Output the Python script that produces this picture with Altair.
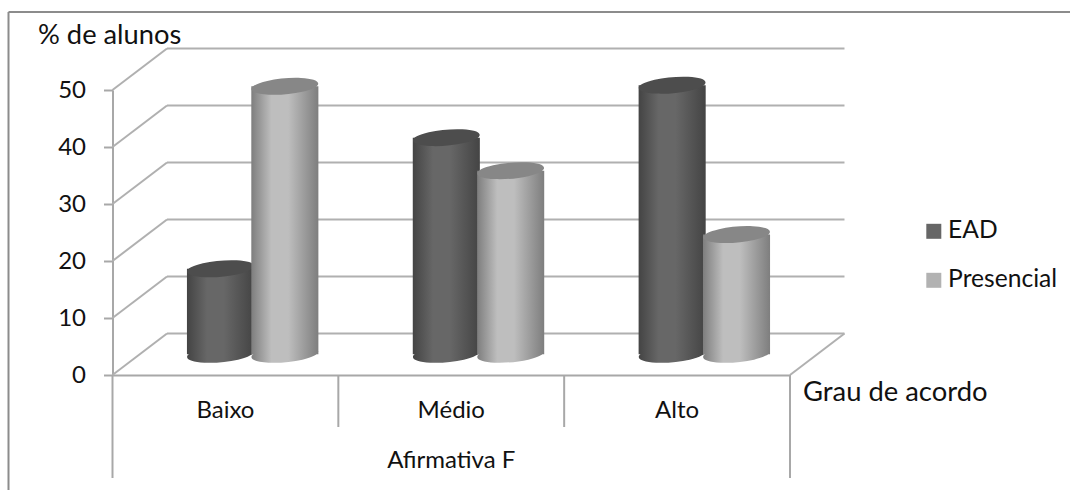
import altair as alt
import pandas as pd

# Survey values
categories = ["Baixo", "Médio", "Alto"]
ead_values = [15, 38, 47.2]
presencial_values = [47, 32.2, 21]
series_names = ["EAD", "Presencial"]
y_ticks = [0, 10, 20, 30, 40, 50]
group_label = "Afirmativa F"

# Oblique projection of the box, in axis units
DEPTH_X = 0.2413
DEPTH_Y = 7.28
CYL_W = 0.297
CYL_GAP = 0.1425

PLOT_W = 677.5
PLOT_H = 285
FONT = "Lato"
INK = "#111111"
GRID = "#b0b0b0"
AXIS = "#a8a8a8"
FRAME = "#8c8c8c"

x_scale = alt.Scale(domain=[0, 3], nice=False, zero=False)
y_scale = alt.Scale(domain=[0, 50], nice=False, zero=False)


def shaded(edge, mid):
    return alt.Gradient(
        gradient="linear", x1=0, x2=1, y1=0, y2=0,
        stops=[
            alt.GradientStop(offset=0, color=edge),
            alt.GradientStop(offset=0.3, color=mid),
            alt.GradientStop(offset=0.55, color=mid),
            alt.GradientStop(offset=1, color=edge),
        ],
    )


# Tilted ellipse spanning -1..1 across, for the cylinder caps
CAP = "M-0.996,0.088 A1,0.236 -5 1 1 0.996,-0.088 A1,0.236 -5 1 1 -0.996,0.088 Z"


def cylinder_layers(values, side, edge, mid, cap):
    rows = []
    for i, v in enumerate(values):
        c = i + 0.5 + DEPTH_X / 2 + side * CYL_GAP
        rows.append({
            "x0": c - CYL_W / 2, "x1": c + CYL_W / 2, "xc": c,
            "base": DEPTH_Y / 2, "top": DEPTH_Y / 2 + v,
        })
    df = pd.DataFrame(rows)
    fill = shaded(edge, mid)
    body = alt.Chart(df).mark_rect(fill=fill).encode(
        x=alt.X("x0:Q", scale=x_scale), x2="x1:Q",
        y=alt.Y("base:Q", scale=y_scale), y2="top:Q",
    )
    foot = alt.Chart(df).mark_point(
        filled=True, fill=fill, shape=CAP, size=4489, opacity=1
    ).encode(
        x=alt.X("xc:Q", scale=x_scale),
        y=alt.Y("base:Q", scale=y_scale),
    )
    head = alt.Chart(df).mark_point(
        filled=True, fill=cap, shape=CAP, size=4489, opacity=1
    ).encode(
        x=alt.X("xc:Q", scale=x_scale),
        y=alt.Y("top:Q", scale=y_scale),
    )
    return [body, foot, head]


# Axes, with the domain lines forming the front edges of the box
axes = alt.Chart(pd.DataFrame({"x": [0, 3], "y": [0, 50]})).mark_point(opacity=0).encode(
    x=alt.X("x:Q", scale=x_scale, axis=alt.Axis(
        values=[0, 3], ticks=False, labels=False, grid=False,
        domainColor=AXIS, domainWidth=2,
        title="Grau de acordo", titleFont=FONT, titleFontSize=27.4,
        titleFontWeight="normal", titleColor=INK, titleAngle=0,
        titleAlign="left", titleBaseline="middle", titleX=690, titleY=17,
    )),
    y=alt.Y("y:Q", scale=y_scale, axis=alt.Axis(
        values=y_ticks, grid=False, domainColor=AXIS, domainWidth=2,
        tickColor=AXIS, tickWidth=2, tickSize=9,
        labelFont=FONT, labelFontSize=24, labelColor=INK, labelPadding=18,
        title="% de alunos", titleFont=FONT, titleFontSize=27.3,
        titleFontWeight="normal", titleColor=INK, titleAngle=0,
        titleAlign="left", titleBaseline="middle", titleX=-75, titleY=-55,
    )),
)

# Back wall and its connection to the front axis
wall_df = pd.DataFrame({"v": y_ticks})
wall_df["back"] = wall_df["v"] + DEPTH_Y
wall_df["x_back"] = DEPTH_X
wall_df["x_far"] = 3 + DEPTH_X
wall_df["x_front"] = 0.0

back_lines = alt.Chart(wall_df).mark_rule(color=GRID, strokeWidth=2).encode(
    x=alt.X("x_back:Q", scale=x_scale), x2="x_far:Q",
    y=alt.Y("back:Q", scale=y_scale),
)
side_lines = alt.Chart(wall_df).mark_rule(color=GRID, strokeWidth=2).encode(
    x=alt.X("x_front:Q", scale=x_scale), x2="x_back:Q",
    y=alt.Y("v:Q", scale=y_scale), y2="back:Q",
)
floor_df = pd.DataFrame({"x": [3.0], "x2": [3 + DEPTH_X], "y": [0.0], "y2": [DEPTH_Y]})
floor_edge = alt.Chart(floor_df).mark_rule(color=GRID, strokeWidth=2).encode(
    x=alt.X("x:Q", scale=x_scale), x2="x2:Q",
    y=alt.Y("y:Q", scale=y_scale), y2="y2:Q",
)

# Multi-level category separators under the floor
short_ticks = alt.Chart(pd.DataFrame({"x": [1, 2]})).mark_rule(color=AXIS, strokeWidth=2).encode(
    x=alt.X("x:Q", scale=x_scale),
    y=alt.value(PLOT_H), y2=alt.value(PLOT_H + 52),
)
long_ticks = alt.Chart(pd.DataFrame({"x": [0, 3]})).mark_rule(color=AXIS, strokeWidth=2).encode(
    x=alt.X("x:Q", scale=x_scale),
    y=alt.value(PLOT_H), y2=alt.value(PLOT_H + 103),
)

cat_df = pd.DataFrame({"name": categories, "pos": [0.5, 1.5, 2.5]})
cat_labels = alt.Chart(cat_df).mark_text(
    font=FONT, fontSize=24, color=INK, align="center", baseline="middle"
).encode(
    x=alt.X("pos:Q", scale=x_scale),
    y=alt.value(PLOT_H + 36), text="name:N",
)
group_df = pd.DataFrame({"name": [group_label], "pos": [1.5]})
group_text = alt.Chart(group_df).mark_text(
    font=FONT, fontSize=24, color=INK, align="center", baseline="middle"
).encode(
    x=alt.X("pos:Q", scale=x_scale),
    y=alt.value(PLOT_H + 86), text="name:N",
)

# Series legend
legend_layer = alt.Chart(pd.DataFrame({"s": series_names})).mark_square(opacity=0).encode(
    x=alt.value(0), y=alt.value(0),
    color=alt.Color("s:N", scale=alt.Scale(domain=series_names, range=["#666666", "#b2b2b2"]),
                    legend=alt.Legend(
                        title=None, orient="none", legendX=809, legendY=129,
                        symbolType="square", symbolSize=225, symbolOpacity=1,
                        symbolStrokeWidth=0, labelFont=FONT, labelFontSize=24.6,
                        labelColor=INK, rowPadding=24, labelOffset=2,
                    )),
)

# Outer chart border
frame_df = pd.DataFrame({"k": ["frame"]})
frame_left = alt.Chart(frame_df).mark_rule(color=FRAME, strokeWidth=2).encode(
    x=alt.value(-104), y=alt.value(-78), y2=alt.value(400))
frame_top = alt.Chart(frame_df).mark_rule(color=FRAME, strokeWidth=2).encode(
    x=alt.value(-104), x2=alt.value(960), y=alt.value(-78))

layers = [axes, frame_left, frame_top, back_lines, side_lines, floor_edge,
          short_ticks, long_ticks, cat_labels, group_text]
layers += cylinder_layers(ead_values, -1, "#444444", "#676767", "#4d4d4d")
layers += cylinder_layers(presencial_values, 1, "#7e7e7e", "#bebebe", "#878787")
layers += [legend_layer]

chart = alt.layer(*layers).resolve_scale(x="shared", y="shared").properties(
    width=PLOT_W, height=PLOT_H,
    padding={"left": 112.5, "top": 90, "right": 280, "bottom": 115},
    autosize=alt.AutoSizeParams(type="none"),
    background="white",
).configure_view(stroke=None)

chart.save("out.html", embed_options={"renderer": "svg", "actions": False})
